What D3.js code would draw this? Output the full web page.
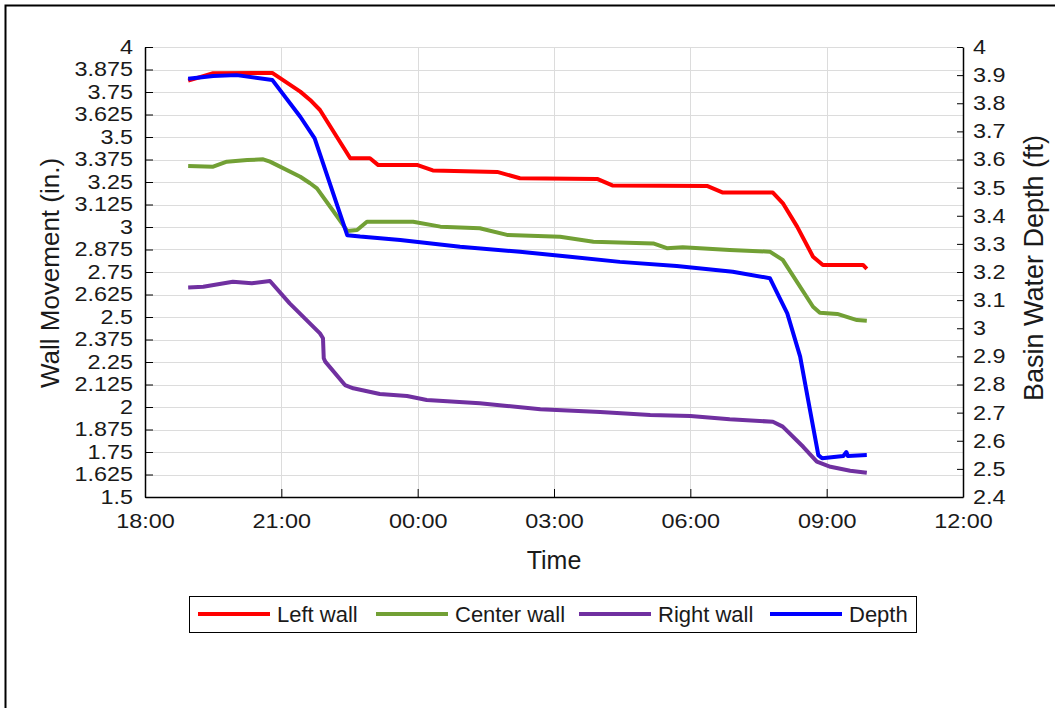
<!DOCTYPE html>
<html>
<head>
<meta charset="utf-8">
<script src="https://cdn.jsdelivr.net/npm/d3@7"></script>
<style>
  html, body { margin: 0; padding: 0; background: #fff; }
  svg { display: block; font-family: "Liberation Sans", Arial, sans-serif; }
</style>
</head>
<body>
<svg id="chart" width="1055" height="708"></svg>
<script>
// Overnight basin drawdown: wall movement (left axis, in.) and water depth (right axis, ft)

const timeTicks = ["18:00", "21:00", "00:00", "03:00", "06:00", "09:00", "12:00"];
const wallTicks = [1.5, 1.625, 1.75, 1.875, 2, 2.125, 2.25, 2.375, 2.5, 2.625, 2.75, 2.875,
                   3, 3.125, 3.25, 3.375, 3.5, 3.625, 3.75, 3.875, 4];
const depthTicks = [2.4, 2.5, 2.6, 2.7, 2.8, 2.9, 3, 3.1, 3.2, 3.3, 3.4, 3.5, 3.6, 3.7, 3.8, 3.9, 4];

const leftWall = [
  ["18:57", 3.813], ["19:30", 3.854], ["20:48", 3.856], ["21:25", 3.752], ["21:38", 3.706],
  ["21:51", 3.650], ["22:31", 3.382], ["22:57", 3.382], ["23:08", 3.344], ["00:00", 3.344],
  ["00:20", 3.314], ["01:45", 3.306], ["02:15", 3.271], ["03:57", 3.267], ["04:17", 3.231],
  ["06:22", 3.228], ["06:43", 3.191], ["07:49", 3.191], ["08:02", 3.133], ["08:21", 3.002],
  ["08:42", 2.835], ["08:55", 2.789], ["09:48", 2.789], ["09:53", 2.767]
];

const centerWall = [
  ["18:57", 3.339], ["19:30", 3.335], ["19:48", 3.363], ["20:15", 3.372], ["20:36", 3.376],
  ["20:45", 3.363], ["21:25", 3.279], ["21:38", 3.243], ["21:47", 3.215], ["22:14", 3.057],
  ["22:27", 2.978], ["22:40", 2.983], ["22:53", 3.029], ["23:54", 3.029], ["00:30", 3.002],
  ["01:22", 2.993], ["01:58", 2.956], ["03:08", 2.946], ["03:52", 2.918], ["05:11", 2.909],
  ["05:29", 2.882], ["05:50", 2.887], ["06:52", 2.872], ["07:45", 2.863], ["08:02", 2.817],
  ["08:42", 2.557], ["08:51", 2.524], ["09:14", 2.517], ["09:40", 2.483], ["09:53", 2.479]
];

const rightWall = [
  ["18:57", 2.664], ["19:17", 2.668], ["19:56", 2.696], ["20:21", 2.687], ["20:45", 2.700],
  ["21:11", 2.576], ["21:51", 2.409], ["21:55", 2.382], ["21:56", 2.271], ["21:58", 2.252],
  ["22:24", 2.122], ["22:35", 2.104], ["23:10", 2.072], ["23:46", 2.061], ["00:12", 2.039],
  ["01:22", 2.021], ["01:58", 2.006], ["02:42", 1.987], ["04:01", 1.972], ["05:07", 1.956],
  ["06:00", 1.950], ["06:52", 1.932], ["07:49", 1.918], ["08:02", 1.891], ["08:29", 1.779],
  ["08:47", 1.696], ["09:05", 1.668], ["09:31", 1.646], ["09:53", 1.635]
];

const depth = [
  ["18:57", 3.887], ["19:30", 3.897], ["20:01", 3.900], ["20:48", 3.883], ["21:25", 3.752],
  ["21:44", 3.675], ["22:27", 3.331], ["22:44", 3.326], ["23:37", 3.314], ["00:56", 3.290],
  ["02:15", 3.272], ["03:21", 3.254], ["04:27", 3.236], ["05:42", 3.221], ["06:56", 3.201],
  ["07:45", 3.178], ["08:08", 3.053], ["08:25", 2.899], ["08:38", 2.709], ["08:49", 2.549],
  ["08:54", 2.538], ["09:22", 2.546], ["09:26", 2.560], ["09:28", 2.546], ["09:53", 2.549]
];

const seriesNames = ["Left wall", "Center wall", "Right wall", "Depth"];
const seriesColors = ["#ff0000", "#72a035", "#7030a0", "#0000ff"];

// Clock times run from one evening into the next morning
function toDate(hhmm) {
  const [h, m] = hhmm.split(":").map(Number);
  return new Date(2020, 0, h >= 18 ? 1 : 2, h, m);
}

const svg = d3.select("#chart");
const plot = { left: 145, right: 963, top: 47, bottom: 497 };

const x = d3.scaleTime()
  .domain([toDate("18:00"), toDate("12:00")])
  .range([plot.left, plot.right]);
const yWall = d3.scaleLinear().domain([1.5, 4]).range([plot.bottom, plot.top]);
const yDepth = d3.scaleLinear().domain([2.4, 4]).range([plot.bottom, plot.top]);

// Outer frame
svg.append("rect")
  .attr("x", 5.5).attr("y", 5.5).attr("width", 1100).attr("height", 800)
  .attr("fill", "none").attr("stroke", "#000").attr("stroke-width", 2);

// Grid
const grid = svg.append("g").attr("stroke", "#dcdcdc").attr("stroke-width", 1);
grid.selectAll("line.h").data(wallTicks).join("line")
  .attr("x1", plot.left).attr("x2", plot.right)
  .attr("y1", d => Math.round(yWall(d)) + 0.5).attr("y2", d => Math.round(yWall(d)) + 0.5);
grid.selectAll("line.v").data(timeTicks.slice(1, -1)).join("line")
  .attr("y1", plot.top).attr("y2", plot.bottom)
  .attr("x1", d => Math.round(x(toDate(d))) + 0.5).attr("x2", d => Math.round(x(toDate(d))) + 0.5);

// Axes
const tickFont = 20;
const axisLeft = d3.axisLeft(yWall).tickValues(wallTicks).tickSizeInner(-8).tickSizeOuter(0)
  .tickPadding(12).tickFormat(d3.format(""));
const axisRight = d3.axisRight(yDepth).tickValues(depthTicks).tickSizeInner(-6).tickSizeOuter(0)
  .tickPadding(10).tickFormat(d3.format(""));
const axisBottom = d3.axisBottom(x).tickValues(timeTicks.map(toDate)).tickSizeInner(-8).tickSizeOuter(0)
  .tickPadding(17).tickFormat(d3.timeFormat("%H:%M"));

// Tick labels use a slightly widened face
function styleAxis(g) {
  g.select(".domain").attr("stroke", "#000").attr("stroke-width", 1.5);
  g.selectAll(".tick line").attr("stroke", "#000");
  g.selectAll(".tick text").attr("fill", "#1a1a1a").style("font-size", tickFont + "px")
    .style("font-family", "'Liberation Sans', Arial, sans-serif")
    .each(function () {
      const w = this.getComputedTextLength();
      d3.select(this).attr("textLength", w * 1.17).attr("lengthAdjust", "spacingAndGlyphs");
    });
}

svg.append("g").attr("transform", `translate(${plot.left},0)`).call(axisLeft).call(styleAxis);
svg.append("g").attr("transform", `translate(${plot.right},0)`).call(axisRight).call(styleAxis);
svg.append("g").attr("transform", `translate(0,${plot.bottom})`).call(axisBottom).call(styleAxis);

// Axis titles
svg.append("text").attr("transform", "translate(50,273) rotate(-90)")
  .attr("text-anchor", "middle").attr("dominant-baseline", "central")
  .style("font-size", "26px").attr("fill", "#1a1a1a").text("Wall Movement (in.)");
svg.append("text").attr("transform", "translate(1034,268) rotate(-90)")
  .attr("text-anchor", "middle").attr("dominant-baseline", "central")
  .style("font-size", "27px").attr("fill", "#1a1a1a").text("Basin Water Depth (ft)");
svg.append("text").attr("x", 554).attr("y", 560)
  .attr("text-anchor", "middle").attr("dominant-baseline", "central")
  .style("font-size", "25px").attr("fill", "#1a1a1a").text("Time");

// Series lines
const wallLine = d3.line().x(d => x(toDate(d[0]))).y(d => yWall(d[1]));
const depthLine = d3.line().x(d => x(toDate(d[0]))).y(d => yDepth(d[1]));

const seriesDefs = [
  { data: leftWall, gen: wallLine },
  { data: centerWall, gen: wallLine },
  { data: rightWall, gen: wallLine },
  { data: depth, gen: depthLine }
];
svg.append("g").selectAll("path").data(seriesDefs).join("path")
  .attr("d", d => d.gen(d.data))
  .attr("fill", "none")
  .attr("stroke", (d, i) => seriesColors[i])
  .attr("stroke-width", 4)
  .attr("stroke-linejoin", "round")
  .attr("stroke-linecap", "butt");

// Legend
const legend = svg.append("g");
legend.append("rect").attr("x", 189.5).attr("y", 596.5).attr("width", 727).attr("height", 36)
  .attr("fill", "#fff").attr("stroke", "#000").attr("stroke-width", 1);
const legendX = [198, 376, 579, 770];
const items = legend.selectAll("g.item").data(seriesNames).join("g")
  .attr("transform", (d, i) => `translate(${legendX[i]},614)`);
items.append("line").attr("x1", 0).attr("x2", 72).attr("y1", 0).attr("y2", 0)
  .attr("stroke", (d, i) => seriesColors[i]).attr("stroke-width", 4);
items.append("text").attr("x", 79).attr("y", 0).attr("dominant-baseline", "central")
  .style("font-size", "22px").attr("fill", "#1a1a1a").text(d => d);
</script>
</body>
</html>
